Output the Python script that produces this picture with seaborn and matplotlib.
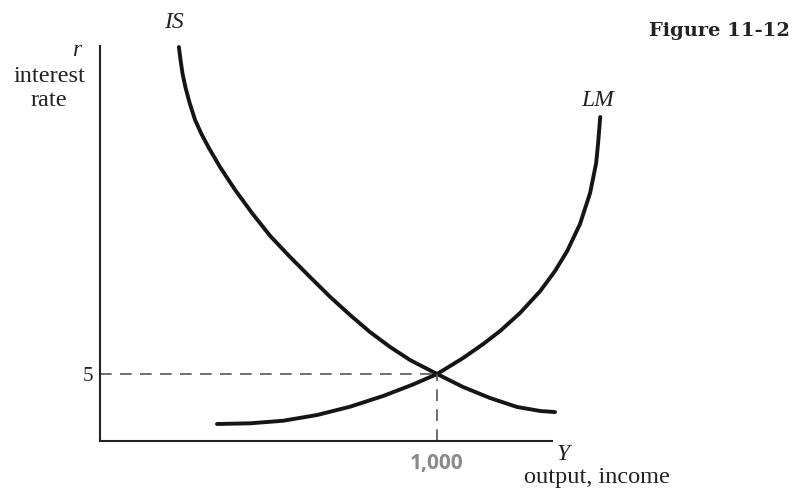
import matplotlib
matplotlib.use("Agg")
import matplotlib.pyplot as plt
import seaborn as sns
import pandas as pd

# points (output Y, interest rate r)
is_output = [234, 239, 245, 254, 266, 282, 301, 323, 356, 401, 451, 505, 564, 623, 683, 742,
             801, 861, 920, 1000, 1077, 1157, 1237, 1306, 1350]
is_rate = [29.40, 28.43, 27.39, 26.34, 25.22, 23.96, 22.91, 21.87, 20.45, 18.73, 17.01, 15.30,
           13.73, 12.24, 10.75, 9.40, 8.13, 7.01, 6.04, 5.0, 4.03, 3.21, 2.54, 2.24, 2.16]

lm_output = [347, 445, 543, 644, 742, 840, 929, 1000, 1077, 1137, 1187, 1246, 1306, 1350,
             1386, 1424, 1454, 1472, 1478, 1484]
lm_rate = [1.27, 1.32, 1.51, 1.94, 2.56, 3.36, 4.22, 5.0, 6.19, 7.24, 8.21, 9.55, 11.19, 12.69,
           14.18, 16.19, 18.51, 20.75, 22.31, 24.18]

eq_output = 1000
eq_rate = 5
tick_output = "1,000"
tick_rate = "5"

sns.set_style("white")
plt.rcParams['font.family'] = ['Liberation Serif', 'DejaVu Serif']

is_df = pd.DataFrame({"Y": is_output, "r": is_rate})
lm_df = pd.DataFrame({"Y": lm_output, "r": lm_rate})

fig = plt.figure(figsize=(7.94, 4.95), dpi=100)
ax = fig.add_axes([100 / 794, 54 / 495, 510 / 794, 402 / 495])

sns.lineplot(data=is_df, x="Y", y="r", sort=False, estimator=None, color="#151515", lw=2.8, ax=ax)
sns.lineplot(data=lm_df, x="Y", y="r", sort=False, estimator=None, color="#151515", lw=2.8, ax=ax)

# dashed guides to the equilibrium
ax.plot([0, eq_output], [eq_rate, eq_rate], color="#555555", lw=1.2, dashes=(7, 5))
ax.plot([eq_output, eq_output], [0, eq_rate], color="#555555", lw=1.2, dashes=(7, 5))

ax.set_xlim(0, 1513)
ax.set_ylim(0, 30)
ax.set_xlabel("")
ax.set_ylabel("")
for s in ["top", "right"]:
    ax.spines[s].set_visible(False)
for s in ["left", "bottom"]:
    ax.spines[s].set_color("#222222")
    ax.spines[s].set_linewidth(1.5)
ax.spines["bottom"].set_bounds(0, 1341)
ax.spines["left"].set_bounds(0, 29.5)

ax.set_yticks([eq_rate])
ax.set_yticklabels([tick_rate], fontsize=15, color="#222222")
ax.set_xticks([eq_output])
ax.set_xticklabels([tick_output], fontsize=15, color="#8a8a8a", fontweight="bold", family="Open Sans")
ax.tick_params(axis="y", length=0, pad=5)
ax.tick_params(axis="x", length=0, pad=9)

# curve and axis labels
fig.text(174 / 794, 1 - 22 / 495, "IS", fontsize=17, style="italic", ha="center", va="center", color="#222222")
fig.text(598 / 794, 1 - 100 / 495, "LM", fontsize=17, style="italic", ha="center", va="center", color="#222222")
fig.text(77 / 794, 1 - 50 / 495, "r", fontsize=17, style="italic", ha="center", va="center", color="#222222")
fig.text(49 / 794, 1 - 76 / 495, "interest", fontsize=17.5, ha="center", va="center", color="#222222")
fig.text(49 / 794, 1 - 100 / 495, "rate", fontsize=17.5, ha="center", va="center", color="#222222")
fig.text(563 / 794, 1 - 455 / 495, "Y", fontsize=17, style="italic", ha="center", va="center", color="#222222")
fig.text(597 / 794, 1 - 478 / 495, "output, income", fontsize=17.5, ha="center", va="center", color="#222222")
fig.text(790 / 794, 1 - 31 / 495, "Figure 11-12", fontsize=14, fontweight="bold", family="DejaVu Serif",
         ha="right", va="center", color="#222222")

fig.savefig("out.png", dpi=100)
